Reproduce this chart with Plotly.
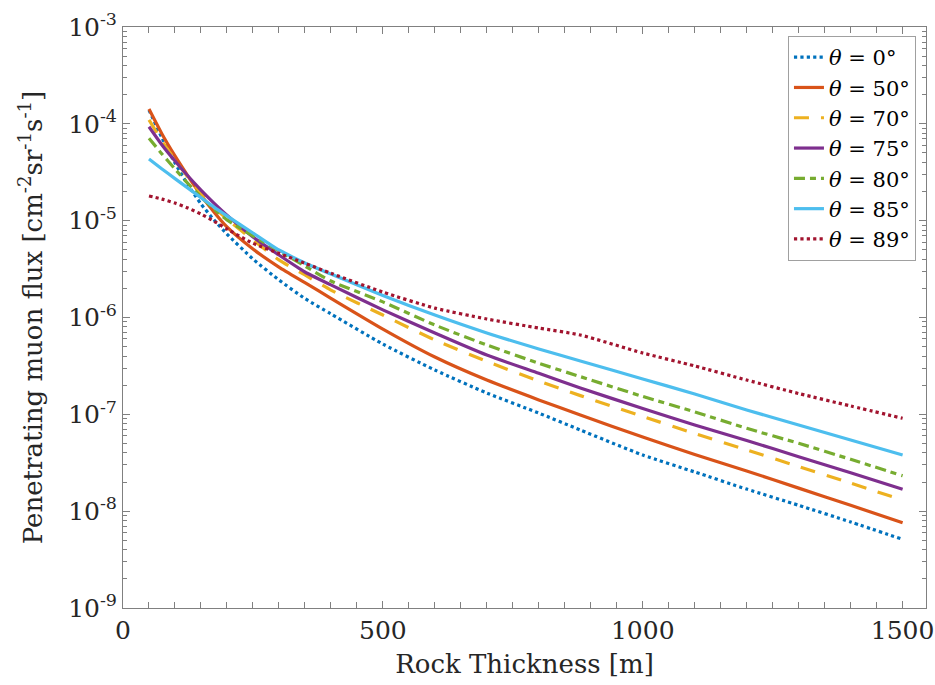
import plotly.graph_objects as go

thickness = [50, 75, 100, 125, 150, 175, 200, 250, 300, 350, 400, 500, 600, 700, 800, 880,
             1000, 1100, 1200, 1300, 1400, 1500]

flux_0 = [1.39e-4, 7.14e-5, 3.94e-5, 2.34e-5, 1.49e-5, 1.02e-5, 7.28e-6, 4.02e-6, 2.44e-6,
          1.57e-6, 1.09e-6, 5.32e-7, 2.87e-7, 1.66e-7, 1.03e-7, 6.89e-8,
          3.80e-8, 2.54e-8, 1.69e-8, 1.15e-8, 7.73e-9, 5.12e-9]
flux_50 = [1.42e-4, 7.85e-5, 4.66e-5, 2.89e-5, 1.84e-5, 1.23e-5, 8.61e-6, 5.09e-6, 3.32e-6,
           2.29e-6, 1.58e-6, 7.60e-7, 3.91e-7, 2.26e-7, 1.41e-7, 9.84e-8,
           5.83e-8, 3.85e-8, 2.60e-8, 1.73e-8, 1.15e-8, 7.6e-9]
flux_70 = [1.10e-4, 6.65e-5, 4.23e-5, 2.82e-5, 1.93e-5, 1.38e-5, 1.04e-5, 6.32e-6, 3.93e-6,
           2.75e-6, 1.92e-6, 1.06e-6, 5.86e-7, 3.52e-7, 2.21e-7, 1.56e-7,
           9.51e-8, 6.34e-8, 4.29e-8, 2.89e-8, 1.95e-8, 1.30e-8]
flux_75 = [9.33e-5, 6.05e-5, 4.13e-5, 2.89e-5, 2.07e-5, 1.52e-5, 1.14e-5, 6.78e-6, 4.42e-6,
           2.95e-6, 2.17e-6, 1.20e-6, 6.92e-7, 4.10e-7, 2.65e-7, 1.87e-7,
           1.15e-7, 7.76e-8, 5.37e-8, 3.65e-8, 2.49e-8, 1.68e-8]
flux_80 = [7.10e-5, 4.88e-5, 3.42e-5, 2.42e-5, 1.76e-5, 1.32e-5, 1.02e-5, 6.95e-6, 4.86e-6,
           3.40e-6, 2.38e-6, 1.45e-6, 8.36e-7, 5.20e-7, 3.37e-7, 2.45e-7,
           1.53e-7, 1.06e-7, 7.17e-8, 5.02e-8, 3.43e-8, 2.32e-8]
flux_85 = [4.33e-5, 3.42e-5, 2.72e-5, 2.17e-5, 1.73e-5, 1.38e-5, 1.12e-5, 7.46e-6, 4.98e-6,
           3.66e-6, 2.81e-6, 1.69e-6, 1.06e-6, 6.92e-7, 4.73e-7, 3.56e-7,
           2.32e-7, 1.62e-7, 1.11e-7, 7.76e-8, 5.43e-8, 3.80e-8]
flux_89 = [1.80e-5, 1.67e-5, 1.52e-5, 1.35e-5, 1.17e-5, 9.9e-6, 8.2e-6, 5.84e-6, 4.60e-6,
           3.63e-6, 2.86e-6, 1.83e-6, 1.25e-6, 9.65e-7, 7.78e-7, 6.59e-7,
           4.30e-7, 3.16e-7, 2.26e-7, 1.64e-7, 1.22e-7, 9.1e-8]

angles = ["0", "50", "70", "75", "80", "85", "89"]
series = [flux_0, flux_50, flux_70, flux_75, flux_80, flux_85, flux_89]
colors = ["#0072BD", "#D95319", "#EDB120", "#7E2F8E", "#77AC30", "#4DBEEE", "#A2142F"]
dashes = ["dot", "solid", "15px,12px", "solid", "11px,5px,6px,5px", "solid", "dot"]

y_exponents = [-9, -8, -7, -6, -5, -4, -3]
x_ticks = [0, 500, 1000, 1500]

FONT = "DejaVu Serif"
TXT = "#262626"
AX = "#808080"

fig = go.Figure()
for ang, ys, c, d in zip(angles, series, colors, dashes):
    fig.add_trace(go.Scatter(
        x=thickness, y=ys, mode="lines",
        name=f"<i>θ</i> = {ang}°",
        line=dict(color=c, width=3.2, dash=d, shape="spline", smoothing=0.6),
    ))

minor_y = [k * 10.0 ** e for e in y_exponents[:-1] for k in range(2, 10)]

fig.update_layout(
    width=935, height=685,
    margin=dict(l=123, r=9, t=27, b=77),
    paper_bgcolor="white", plot_bgcolor="white",
    font=dict(family=FONT, color=TXT, size=22),
    showlegend=True,
    legend=dict(
        x=0.9875, y=0.9845, xanchor="right", yanchor="top",
        bgcolor="white", bordercolor="#A0A0A0", borderwidth=1,
        font=dict(family=FONT, size=21, color="black"),
        tracegroupgap=0,
    ),
    xaxis=dict(
        range=[0, 1545], automargin=False,
        tickmode="array", tickvals=x_ticks, ticktext=[str(v) for v in x_ticks],
        ticks="inside", ticklen=7, tickcolor=AX, tickwidth=1,
        minor=dict(tickmode="linear", tick0=0, dtick=50, ticks="inside",
                   ticklen=6, tickcolor=AX),
        showline=True, linecolor=AX, linewidth=1, mirror="allticks",
        showgrid=False, zeroline=False,
        tickfont=dict(family=FONT, size=25, color=TXT),
        title=dict(text="Rock Thickness [m]", font=dict(family=FONT, size=26, color=TXT),
                   standoff=10),
    ),
    yaxis=dict(
        type="log", range=[-9, -3], automargin=False,
        tickmode="array", tickvals=[10.0 ** e for e in y_exponents],
        ticktext=[f"10<sup>{e}</sup>" for e in y_exponents],
        ticks="inside", ticklen=7, tickcolor=AX, tickwidth=1,
        minor=dict(tickmode="array", tickvals=minor_y, ticks="inside",
                   ticklen=4, tickcolor=AX),
        showline=True, linecolor=AX, linewidth=1, mirror="allticks",
        showgrid=False, zeroline=False,
        tickfont=dict(family=FONT, size=25, color=TXT),
        title=dict(text="Penetrating muon flux [cm<sup>-2</sup>sr<sup>-1</sup>s<sup>-1</sup>]",
                   font=dict(family=FONT, size=26, color=TXT), standoff=18),
    ),
)

fig.write_html("out.html")
